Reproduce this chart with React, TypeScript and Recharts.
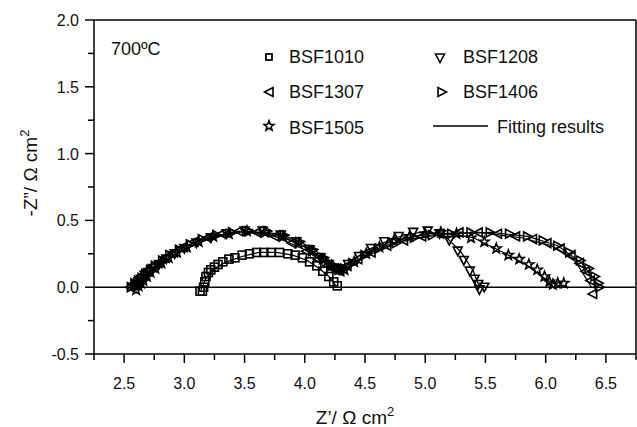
import { ScatterChart, Scatter, XAxis, YAxis, ReferenceLine } from 'recharts';

const FONT = '"Liberation Sans", Arial, sans-serif';

const xTicks = [2.25, 2.5, 2.75, 3.0, 3.25, 3.5, 3.75, 4.0, 4.25, 4.5, 4.75, 5.0, 5.25, 5.5, 5.75, 6.0, 6.25, 6.5, 6.75];
const yTicks = [-0.5, -0.25, 0, 0.25, 0.5, 0.75, 1.0, 1.25, 1.5, 1.75, 2.0];

// measured data (Z', -Z'')
const bsf1010Zre = [3.13, 3.15, 3.16, 3.17, 3.18, 3.2, 3.22, 3.25, 3.28, 3.32, 3.37, 3.42, 3.48, 3.54, 3.6, 3.66, 3.72, 3.79, 3.86, 3.92, 3.98, 4.04, 4.1, 4.15, 4.2, 4.24, 4.27];
const bsf1010Zim = [-0.03, -0.03, 0.0, 0.04, 0.08, 0.11, 0.13, 0.15, 0.17, 0.19, 0.21, 0.22, 0.24, 0.25, 0.26, 0.26, 0.26, 0.26, 0.25, 0.24, 0.22, 0.19, 0.16, 0.12, 0.08, 0.04, 0.01];

const bsf1208Zre = [2.58, 2.6, 2.62, 2.64, 2.67, 2.7, 2.74, 2.79, 2.85, 2.92, 3.0, 3.1, 3.22, 3.35, 3.5, 3.65, 3.8, 3.93, 4.04, 4.13, 4.2, 4.26, 4.3, 4.36, 4.45, 4.55, 4.66, 4.78, 4.9, 5.02, 5.12, 5.2, 5.27, 5.32, 5.37, 5.41, 5.44, 5.45, 5.49];
const bsf1208Zim = [0.0, 0.02, 0.04, 0.06, 0.09, 0.11, 0.14, 0.17, 0.21, 0.25, 0.29, 0.33, 0.37, 0.4, 0.42, 0.42, 0.39, 0.34, 0.28, 0.22, 0.17, 0.14, 0.13, 0.17, 0.23, 0.29, 0.34, 0.38, 0.41, 0.42, 0.4, 0.35, 0.27, 0.2, 0.12, 0.06, 0.02, -0.02, 0.0];

const bsf1307Zre = [2.55, 2.58, 2.61, 2.63, 2.66, 2.69, 2.73, 2.78, 2.84, 2.91, 2.99, 3.08, 3.19, 3.31, 3.45, 3.6, 3.75, 3.89, 4.01, 4.11, 4.19, 4.25, 4.29, 4.35, 4.44, 4.55, 4.68, 4.82, 4.97, 5.12, 5.28, 5.44, 5.6, 5.75, 5.89, 6.01, 6.12, 6.21, 6.28, 6.33, 6.37, 6.39];
const bsf1307Zim = [0.0, 0.02, 0.04, 0.07, 0.09, 0.12, 0.15, 0.18, 0.22, 0.26, 0.3, 0.34, 0.37, 0.4, 0.42, 0.41, 0.38, 0.33, 0.27, 0.21, 0.16, 0.13, 0.12, 0.16, 0.21, 0.26, 0.31, 0.35, 0.38, 0.4, 0.41, 0.41, 0.4, 0.38, 0.36, 0.33, 0.29, 0.24, 0.18, 0.12, 0.05, -0.05];

const bsf1406Zre = [2.56, 2.59, 2.62, 2.65, 2.68, 2.72, 2.76, 2.82, 2.88, 2.96, 3.05, 3.15, 3.27, 3.4, 3.54, 3.69, 3.83, 3.96, 4.07, 4.16, 4.23, 4.28, 4.33, 4.4, 4.5, 4.62, 4.76, 4.91, 5.06, 5.22, 5.38, 5.54, 5.7, 5.85, 5.98, 6.1, 6.2, 6.29, 6.36, 6.41, 6.44, 6.45];
const bsf1406Zim = [0.0, 0.03, 0.05, 0.07, 0.1, 0.13, 0.16, 0.2, 0.24, 0.28, 0.32, 0.36, 0.39, 0.41, 0.42, 0.42, 0.39, 0.34, 0.28, 0.22, 0.17, 0.14, 0.14, 0.18, 0.24, 0.29, 0.33, 0.37, 0.39, 0.4, 0.41, 0.41, 0.4, 0.38, 0.35, 0.31, 0.26, 0.2, 0.14, 0.08, 0.03, 0.0];

const bsf1505Zre = [2.6, 2.62, 2.64, 2.66, 2.69, 2.72, 2.76, 2.81, 2.87, 2.94, 3.02, 3.12, 3.24, 3.37, 3.52, 3.67, 3.82, 3.95, 4.06, 4.15, 4.22, 4.28, 4.33, 4.41, 4.51, 4.62, 4.74, 4.87, 5.0, 5.13, 5.26, 5.38, 5.49, 5.59, 5.69, 5.78, 5.86, 5.93, 5.99, 6.03, 6.06, 6.1, 6.15];
const bsf1505Zim = [-0.02, 0.01, 0.03, 0.05, 0.08, 0.11, 0.14, 0.18, 0.22, 0.26, 0.3, 0.34, 0.38, 0.4, 0.42, 0.41, 0.38, 0.33, 0.27, 0.21, 0.16, 0.13, 0.13, 0.19, 0.25, 0.3, 0.35, 0.38, 0.4, 0.41, 0.4, 0.37, 0.34, 0.29, 0.24, 0.21, 0.17, 0.13, 0.08, 0.04, 0.02, 0.03, 0.03];

// fitting results
const fit1010Zre = [3.14, 3.18, 3.25, 3.35, 3.48, 3.62, 3.76, 3.9, 4.02, 4.12, 4.2, 4.26];
const fit1010Zim = [-0.02, 0.07, 0.14, 0.19, 0.23, 0.26, 0.26, 0.24, 0.2, 0.14, 0.08, 0.01];
const fit1208Zre = [2.59, 2.72, 2.92, 3.2, 3.5, 3.8, 4.03, 4.2, 4.3, 4.5, 4.75, 5.0, 5.18, 5.3, 5.4, 5.45];
const fit1208Zim = [0.0, 0.12, 0.25, 0.36, 0.42, 0.39, 0.29, 0.18, 0.13, 0.27, 0.37, 0.42, 0.37, 0.26, 0.12, 0.0];
const fit1307Zre = [2.56, 2.7, 2.9, 3.15, 3.45, 3.75, 4.0, 4.18, 4.3, 4.5, 4.8, 5.1, 5.45, 5.8, 6.05, 6.25, 6.38];
const fit1307Zim = [0.0, 0.12, 0.26, 0.36, 0.42, 0.38, 0.28, 0.17, 0.12, 0.23, 0.34, 0.4, 0.41, 0.37, 0.31, 0.19, 0.0];
const fit1406Zre = [2.57, 2.72, 2.92, 3.18, 3.5, 3.8, 4.05, 4.22, 4.33, 4.55, 4.85, 5.2, 5.55, 5.85, 6.1, 6.3, 6.44];
const fit1406Zim = [0.0, 0.13, 0.27, 0.37, 0.42, 0.4, 0.3, 0.18, 0.14, 0.26, 0.36, 0.4, 0.41, 0.38, 0.31, 0.18, 0.01];
const fit1505Zre = [2.61, 2.75, 2.95, 3.2, 3.5, 3.8, 4.05, 4.22, 4.33, 4.55, 4.85, 5.1, 5.4, 5.65, 5.85, 6.0, 6.08];
const fit1505Zim = [0.0, 0.13, 0.26, 0.37, 0.42, 0.38, 0.28, 0.17, 0.13, 0.27, 0.37, 0.41, 0.37, 0.26, 0.16, 0.06, 0.02];

const pts = (zre: number[], zim: number[]) => zre.map((x, i) => ({ x, y: zim[i] }));

const SW = 1.6;
const Square = ({ cx, cy }: any) => (
  <rect x={cx - 4} y={cy - 4} width={8} height={8} fill="none" stroke="#000" strokeWidth={SW} />
);
const TriDown = ({ cx, cy }: any) => (
  <polygon points={`${cx - 4.5},${cy - 4} ${cx + 4.5},${cy - 4} ${cx},${cy + 4.5}`} fill="none" stroke="#000" strokeWidth={SW} />
);
const TriLeft = ({ cx, cy }: any) => (
  <polygon points={`${cx - 4.5},${cy} ${cx + 4},${cy - 4.5} ${cx + 4},${cy + 4.5}`} fill="none" stroke="#000" strokeWidth={SW} />
);
const TriRight = ({ cx, cy }: any) => (
  <polygon points={`${cx + 4.5},${cy} ${cx - 4},${cy - 4.5} ${cx - 4},${cy + 4.5}`} fill="none" stroke="#000" strokeWidth={SW} />
);
const Star = ({ cx, cy }: any) => {
  const p: string[] = [];
  for (let i = 0; i < 10; i++) {
    const r = i % 2 === 0 ? 5.2 : 2.2;
    const a = -Math.PI / 2 + (i * Math.PI) / 5;
    p.push(`${cx + r * Math.cos(a)},${cy + r * Math.sin(a)}`);
  }
  return <polygon points={p.join(' ')} fill="none" stroke="#000" strokeWidth={SW} />;
};
const NoDot = () => <g />;

const isMajor = (v: number) => Math.abs(v * 2 - Math.round(v * 2)) < 1e-6;

const XTick = ({ x, y, payload }: any) => {
  const v = payload.value;
  const major = isMajor(v);
  return (
    <g>
      <line x1={x} x2={x} y1={y} y2={y + (major ? 9 : 6)} stroke="#000" strokeWidth={1.5} />
      {major && v > 2.3 && v < 6.7 && (
        <text x={x} y={y + 35} textAnchor="middle" fontSize={16} fontFamily={FONT} fill="#111">
          {v.toFixed(1)}
        </text>
      )}
    </g>
  );
};

const YTick = ({ x, y, payload }: any) => {
  const v = payload.value;
  const major = isMajor(v);
  return (
    <g>
      <line x1={x - (major ? 9 : 6)} x2={x} y1={y} y2={y} stroke="#000" strokeWidth={1.5} />
      {major && (
        <text x={x - 15} y={y + 6} textAnchor="end" fontSize={16} fontFamily={FONT} fill="#111">
          {v.toFixed(1)}
        </text>
      )}
    </g>
  );
};

const legendMarker = (kind: string, cx: number, cy: number) => {
  if (kind === 'sq') return <rect x={cx - 3} y={cy - 3} width={6} height={6} fill="none" stroke="#000" strokeWidth={1.8} />;
  if (kind === 'down') return <TriDown cx={cx} cy={cy} />;
  if (kind === 'left') return <TriLeft cx={cx} cy={cy} />;
  if (kind === 'right') return <TriRight cx={cx} cy={cy} />;
  return <Star cx={cx} cy={cy} />;
};

export default function App() {
  return (
    <div style={{ position: 'absolute', left: 0, top: 0, width: 637, height: 427, background: '#fff' }}>
      <ScatterChart width={637} height={427} margin={{ top: 20, right: 1, left: 0, bottom: 0 }}>
        <XAxis
          type="number"
          dataKey="x"
          domain={[2.25, 6.75]}
          ticks={xTicks}
          interval={0}
          height={73}
          tickSize={0}
          tickMargin={0}
          tickLine={false}
          tick={<XTick />}
          axisLine={{ stroke: '#000', strokeWidth: 1.5 }}
          allowDataOverflow
        />
        <YAxis
          type="number"
          dataKey="y"
          domain={[-0.5, 2.0]}
          ticks={yTicks}
          interval={0}
          width={94}
          tickSize={0}
          tickMargin={0}
          tickLine={false}
          tick={<YTick />}
          axisLine={{ stroke: '#000', strokeWidth: 1.5 }}
          allowDataOverflow
        />
        <ReferenceLine y={0} stroke="#000" strokeWidth={1.5} />
        <ReferenceLine y={2.0} stroke="#000" strokeWidth={1.5} />
        <ReferenceLine x={6.75} stroke="#000" strokeWidth={1.5} />

        <Scatter data={pts(fit1010Zre, fit1010Zim)} line={{ stroke: '#000', strokeWidth: 1.2 }} shape={NoDot} isAnimationActive={false} />
        <Scatter data={pts(fit1208Zre, fit1208Zim)} line={{ stroke: '#000', strokeWidth: 1.2 }} shape={NoDot} isAnimationActive={false} />
        <Scatter data={pts(fit1307Zre, fit1307Zim)} line={{ stroke: '#000', strokeWidth: 1.2 }} shape={NoDot} isAnimationActive={false} />
        <Scatter data={pts(fit1406Zre, fit1406Zim)} line={{ stroke: '#000', strokeWidth: 1.2 }} shape={NoDot} isAnimationActive={false} />
        <Scatter data={pts(fit1505Zre, fit1505Zim)} line={{ stroke: '#000', strokeWidth: 1.2 }} shape={NoDot} isAnimationActive={false} />

        <Scatter name="BSF1010" data={pts(bsf1010Zre, bsf1010Zim)} shape={Square} isAnimationActive={false} />
        <Scatter name="BSF1208" data={pts(bsf1208Zre, bsf1208Zim)} shape={TriDown} isAnimationActive={false} />
        <Scatter name="BSF1307" data={pts(bsf1307Zre, bsf1307Zim)} shape={TriLeft} isAnimationActive={false} />
        <Scatter name="BSF1406" data={pts(bsf1406Zre, bsf1406Zim)} shape={TriRight} isAnimationActive={false} />
        <Scatter name="BSF1505" data={pts(bsf1505Zre, bsf1505Zim)} shape={Star} isAnimationActive={false} />
      </ScatterChart>

      <svg width={637} height={427} style={{ position: 'absolute', left: 0, top: 0, pointerEvents: 'none' }}>
        <text x={111} y={55} fontSize={18} fontFamily={FONT} fill="#111">700ºC</text>

        {legendMarker('sq', 269, 57)}
        <text x={289} y={63} fontSize={18} fontFamily={FONT} fill="#111">BSF1010</text>
        {legendMarker('down', 440, 58)}
        <text x={463} y={63} fontSize={18} fontFamily={FONT} fill="#111">BSF1208</text>
        {legendMarker('left', 269, 92)}
        <text x={289} y={98} fontSize={18} fontFamily={FONT} fill="#111">BSF1307</text>
        {legendMarker('right', 442, 92)}
        <text x={463} y={98} fontSize={18} fontFamily={FONT} fill="#111">BSF1406</text>
        {legendMarker('star', 269, 126)}
        <text x={289} y={134} fontSize={18} fontFamily={FONT} fill="#111">BSF1505</text>
        <line x1={433} x2={488} y1={126} y2={126} stroke="#000" strokeWidth={1.5} />
        <text x={497} y={133} fontSize={18} fontFamily={FONT} fill="#111">Fitting results</text>

        <text x={355} y={424} textAnchor="middle" fontSize={19} fontFamily={FONT} fill="#111">
          Z’/ Ω cm<tspan dy={-8} fontSize={13}>2</tspan>
        </text>
        <text x={37} y={173} transform="rotate(-90, 37, 173)" textAnchor="middle" fontSize={19} fontFamily={FONT} fill="#111">
          -Z”/ Ω cm<tspan dy={-8} fontSize={13}>2</tspan>
        </text>
      </svg>
    </div>
  );
}
